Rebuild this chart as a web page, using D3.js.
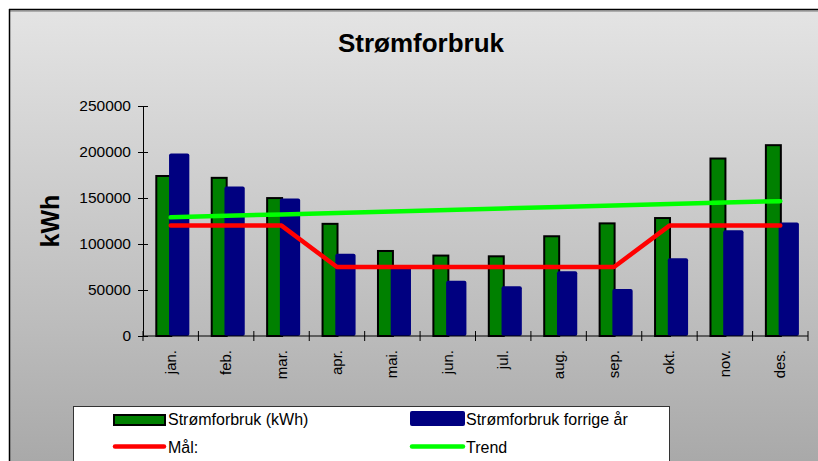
<!DOCTYPE html>
<html>
<head>
<meta charset="utf-8">
<script src="https://cdn.jsdelivr.net/npm/d3@7"></script>
<style>
  html, body { margin: 0; padding: 0; background: #fff; }
  svg { display: block; font-family: "Liberation Sans", Arial, sans-serif; }
</style>
</head>
<body>
<div id="chart"></div>
<script>
// Months on the x axis
const months = ["jan.", "feb.", "mar.", "apr.", "mai.", "jun.", "jul.", "aug.", "sep.", "okt.", "nov.", "des."];

// Series values (kWh)
const forbruk = [175000, 173000, 151000, 123000, 93500, 88500, 87700, 109500, 123500, 129300, 194000, 208500];
const forrigeAr = [198500, 162500, 149500, 89500, 76000, 60000, 54000, 70500, 51000, 84500, 115000, 123500];
const maal = [120000, 120000, 120000, 75000, 75000, 75000, 75000, 75000, 75000, 120000, 120000, 120000];
const trend = [129000, 130600, 132200, 133800, 135400, 137000, 138600, 140200, 141800, 143400, 145000, 146600];

const yTicks = [0, 50000, 100000, 150000, 200000, 250000];

const width = 818, height = 461;

const svg = d3.select("#chart")
  .append("svg")
  .attr("width", width)
  .attr("height", height);

// background gradient of the chart area
const defs = svg.append("defs");
const grad = defs.append("linearGradient")
  .attr("id", "bg")
  .attr("gradientUnits", "userSpaceOnUse")
  .attr("x1", 0).attr("y1", 9).attr("x2", 0).attr("y2", 461);
grad.append("stop").attr("offset", 0).attr("stop-color", "#e4e4e4");
grad.append("stop").attr("offset", 0.7).attr("stop-color", "#bcbcbc");
grad.append("stop").attr("offset", 1).attr("stop-color", "#a9a9a9");

svg.append("rect")
  .attr("x", 9).attr("y", 9)
  .attr("width", width).attr("height", height)
  .attr("fill", "url(#bg)");
svg.append("line").attr("x1", 9).attr("x2", width).attr("y1", 9.5).attr("y2", 9.5)
  .attr("stroke", "#000").attr("stroke-width", 1.5);
svg.append("line").attr("x1", 9).attr("x2", width).attr("y1", 11).attr("y2", 11)
  .attr("stroke", "#777").attr("stroke-width", 1);
svg.append("line").attr("x1", 9.5).attr("x2", 9.5).attr("y1", 9).attr("y2", height)
  .attr("stroke", "#000").attr("stroke-width", 1.5);

// scales
const x = d3.scaleBand().domain(months).range([143, 808]).padding(0);
const y = d3.scaleLinear().domain([0, 250000]).range([336, 106]);
const bw = x.bandwidth();

// title
svg.append("text")
  .attr("x", 421).attr("y", 52)
  .attr("text-anchor", "middle")
  .attr("font-size", 26).attr("font-weight", "bold")
  .text("Strømforbruk");

// y axis label
svg.append("text")
  .attr("transform", "translate(59,221) rotate(-90)")
  .attr("text-anchor", "middle")
  .attr("font-size", 25).attr("font-weight", "bold")
  .text("kWh");

// bars
const bars = svg.append("g");
months.forEach((m, i) => {
  bars.append("rect")
    .attr("x", x(m) + bw * 0.222 + 1)
    .attr("y", y(forbruk[i]) + 1)
    .attr("width", bw * 0.27)
    .attr("height", y(0) - y(forbruk[i]) - 1)
    .attr("fill", "#008000")
    .attr("stroke", "#000")
    .attr("stroke-width", 2);
  bars.append("rect")
    .attr("x", x(m) + bw * 0.47)
    .attr("y", y(forrigeAr[i]))
    .attr("width", bw * 0.366)
    .attr("height", y(0) - y(forrigeAr[i]))
    .attr("rx", 2)
    .attr("fill", "#000080");
});

// y axis
const yAxis = svg.append("g").attr("transform", "translate(143,0)")
  .call(d3.axisLeft(y).tickValues(yTicks).tickSizeInner(5).tickSizeOuter(0).tickPadding(7).tickFormat(d3.format("d")));
yAxis.select(".domain").attr("stroke", "#000");
yAxis.selectAll(".tick line").attr("x1", -5).attr("x2", 5).attr("stroke", "#000");
yAxis.selectAll("text").attr("font-size", 15.5).attr("font-family", "Liberation Sans, Arial, sans-serif").attr("fill", "#000");

// x axis
const xAxis = svg.append("g").attr("transform", "translate(0,336)");
xAxis.append("line").attr("x1", 143).attr("x2", 808).attr("stroke", "#000");
const bounds = months.map(m => x(m)).concat([x(months[months.length - 1]) + bw]);
xAxis.selectAll("line.tk").data(bounds).enter().append("line")
  .attr("class", "tk")
  .attr("x1", d => d).attr("x2", d => d)
  .attr("y1", -5).attr("y2", 5)
  .attr("stroke", "#000");
xAxis.selectAll("text").data(months).enter().append("text")
  .attr("transform", d => `translate(${x(d) + bw / 2 + 5},14) rotate(-90)`)
  .attr("text-anchor", "end")
  .attr("font-size", 15)
  .text(d => d);

// lines
const line = d3.line().x((d, i) => x(months[i]) + bw / 2).y(d => y(d));
svg.append("path").datum(maal)
  .attr("d", line)
  .attr("fill", "none").attr("stroke", "#ff0000").attr("stroke-width", 4.5)
  .attr("stroke-linecap", "round").attr("stroke-linejoin", "round");
svg.append("path").datum(trend)
  .attr("d", line)
  .attr("fill", "none").attr("stroke", "#00ff00").attr("stroke-width", 4.5)
  .attr("stroke-linecap", "round").attr("stroke-linejoin", "round");

// legend
const leg = svg.append("g");
leg.append("rect")
  .attr("x", 73.5).attr("y", 406.5)
  .attr("width", 596).attr("height", 80)
  .attr("fill", "#fff").attr("stroke", "#333").attr("stroke-width", 1);
leg.append("rect")
  .attr("x", 114).attr("y", 415).attr("width", 51).attr("height", 10)
  .attr("fill", "#008000").attr("stroke", "#000").attr("stroke-width", 2);
leg.append("rect")
  .attr("x", 410).attr("y", 411).attr("width", 55).attr("height", 15).attr("rx", 2)
  .attr("fill", "#000080");
leg.append("line")
  .attr("x1", 115).attr("x2", 164).attr("y1", 446.5).attr("y2", 446.5)
  .attr("stroke", "#ff0000").attr("stroke-width", 4.5).attr("stroke-linecap", "round");
leg.append("line")
  .attr("x1", 412).attr("x2", 463).attr("y1", 446.5).attr("y2", 446.5)
  .attr("stroke", "#00ff00").attr("stroke-width", 4.5).attr("stroke-linecap", "round");
const legText = [
  { t: "Strømforbruk (kWh)", x: 168, y: 425 },
  { t: "Strømforbruk forrige år", x: 466, y: 425 },
  { t: "Mål:", x: 168, y: 453 },
  { t: "Trend", x: 466, y: 453 }
];
leg.selectAll("text.lt").data(legText).enter().append("text")
  .attr("class", "lt")
  .attr("x", d => d.x).attr("y", d => d.y)
  .attr("font-size", 16)
  .text(d => d.t);
</script>
</body>
</html>
